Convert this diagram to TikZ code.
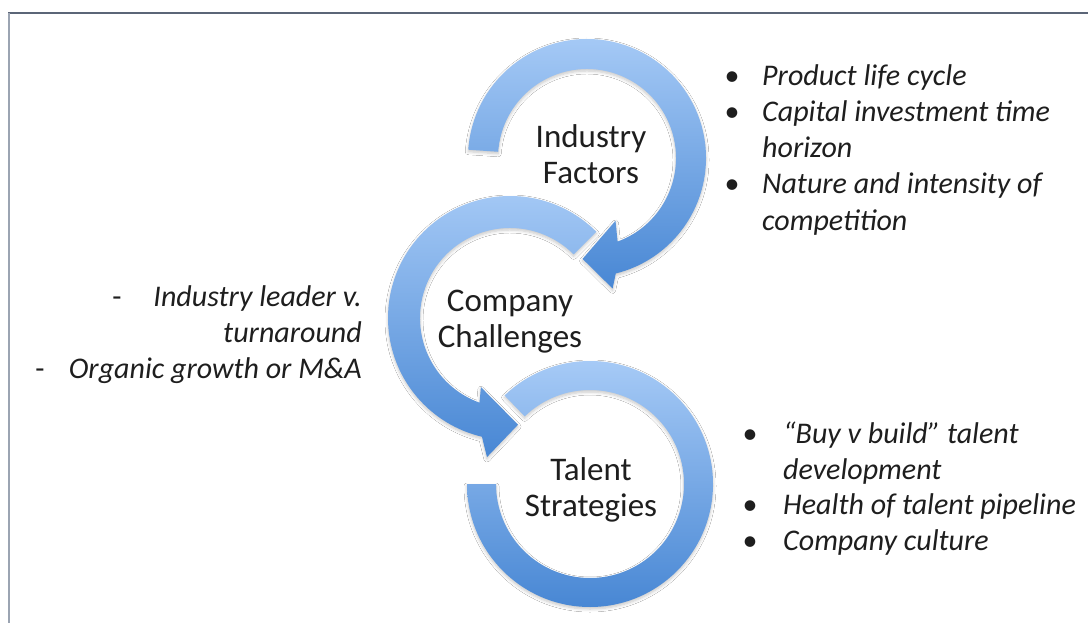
\documentclass[tikz,border=0pt]{standalone}
\usepackage{fontspec}
\setmainfont{Carlito}
\usetikzlibrary{calc,shadows.blur}
\definecolor{ringlight}{HTML}{A6CAF6}
\definecolor{ringdark}{HTML}{4887D4}
\definecolor{inkgray}{HTML}{1E1E1E}
\definecolor{frametop}{HTML}{5B6577}
\definecolor{frameleft}{HTML}{9BA4B2}
\begin{document}
\begin{tikzpicture}[x=1pt,y=1pt,
  ringfill/.style={top color=ringlight, bottom color=ringdark, draw=none,
    blur shadow={shadow xshift=0pt, shadow yshift=-2pt, shadow blur radius=3pt,
      shadow blur steps=6, shadow opacity=22}},
  ringtext/.style={font=\fontsize{33}{36}\selectfont, text=inkgray, align=center, inner sep=0pt},
  notetext/.style={font=\fontsize{30}{36}\selectfont\itshape, text=inkgray, inner sep=0pt},
  bullettext/.style={font=\fontsize{30}{36}\selectfont, text=inkgray, inner sep=0pt, anchor=base},
]
\useasboundingbox (0,0) rectangle (1088,-623);
\fill[white] (0,0) rectangle (1088,-623);

% frame
\draw[frametop, line width=1.3pt] (8,-13) -- (1088,-13);
\draw[frameleft, line width=2pt] (9,-13) -- (9,-623);

% ring centres
\coordinate (c1) at (587,-158);
\coordinate (c2) at (510,-318);
\coordinate (c3) at (590,-484);

% Industry Factors: clockwise arrow, head at the bottom
\shade[ringfill] ($(c1)+(176:119)$) arc[start angle=176, end angle=-76, radius=119]
  -- ($(c1)+(-78.9:133)$) -- ($(c1)+(-92.5:101)$) -- ($(c1)+(-65.6:69)$)
  -- ($(c1)+(-69.9:89)$) arc[start angle=-69.9, end angle=176, radius=89] -- cycle;

% Company Challenges: counter-clockwise arrow, head at the bottom
\shade[ringfill] ($(c2)+(45:122)$) arc[start angle=45, end angle=256.7, radius=122]
  -- ($(c2)+(260.6:141)$) -- ($(c2)+(274.3:107)$) -- ($(c2)+(247.2:75)$)
  -- ($(c2)+(250.2:90)$) arc[start angle=250.2, end angle=45, radius=90] -- cycle;

% Talent Strategies: open ring without head
\shade[ringfill] ($(c3)+(180:123)$) arc[start angle=180, end angle=494, radius=123]
  -- ($(c3)+(494:94)$) arc[start angle=494, end angle=180, radius=94] -- cycle;

% ring labels
\node[ringtext] (ind) at (591,-154) {Industry\\Factors};
\node[ringtext] (comp) at (510,-322) {Company\\Challenges};
\node[ringtext] (tal) at (591,-490) {Talent\\Strategies};

% industry notes
\node[bullettext] (ib1) at (732,-86) {•};
\node[notetext, anchor=base west] (it1) at (762,-86) {Product life cycle};
\node[bullettext] (ib2) at (732,-122) {•};
\node[notetext, anchor=base west] (it2) at (762,-122) {Capital investment time};
\node[notetext, anchor=base west] (it2b) at (762,-158) {horizon};
\node[bullettext] (ib3) at (732,-194) {•};
\node[notetext, anchor=base west] (it3) at (762,-194) {Nature and intensity of};
\node[notetext, anchor=base west] (it3b) at (762,-230) {competition};

% company notes
\node[bullettext] (cd1) at (117,-306) {-};
\node[notetext, anchor=base east] (ct1) at (362,-306) {Industry leader v.};
\node[notetext, anchor=base east] (ct1b) at (362,-342) {turnaround};
\node[bullettext] (cd2) at (40,-378) {-};
\node[notetext, anchor=base east] (ct2) at (362,-378) {Organic growth or M\&A};

% talent notes
\node[bullettext] (tb1) at (750,-443) {•};
\node[notetext, anchor=base west] (tt1) at (783,-443) {“Buy v build” talent};
\node[notetext, anchor=base west] (tt1b) at (783,-479) {development};
\node[bullettext] (tb2) at (750,-514) {•};
\node[notetext, anchor=base west] (tt2) at (783,-514) {Health of talent pipeline};
\node[bullettext] (tb3) at (750,-550) {•};
\node[notetext, anchor=base west] (tt3) at (783,-550) {Company culture};
\end{tikzpicture}
\end{document}
